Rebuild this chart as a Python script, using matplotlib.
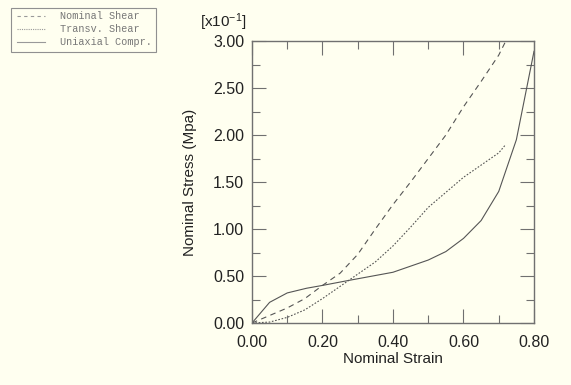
import matplotlib
matplotlib.use("Agg")
import matplotlib.pyplot as plt
from matplotlib.ticker import MultipleLocator, FormatStrFormatter

# strain values and stresses (in units of 1e-1 MPa)
strain_shear = [0.0, 0.05, 0.10, 0.15, 0.20, 0.25, 0.30, 0.35, 0.40, 0.45, 0.50, 0.55, 0.60, 0.65, 0.70, 0.72]
nominal_shear = [0.0, 0.08, 0.16, 0.26, 0.40, 0.53, 0.73, 1.00, 1.26, 1.50, 1.75, 2.00, 2.30, 2.57, 2.85, 3.00]
transv_shear = [0.0, 0.01, 0.06, 0.14, 0.26, 0.39, 0.52, 0.65, 0.82, 1.02, 1.23, 1.39, 1.55, 1.68, 1.81, 1.90]

strain_compr = [0.0, 0.05, 0.10, 0.155, 0.20, 0.27, 0.40, 0.50, 0.55, 0.60, 0.65, 0.70, 0.75, 0.80]
uniaxial_compr = [0.0, 0.22, 0.32, 0.37, 0.40, 0.45, 0.54, 0.67, 0.76, 0.90, 1.09, 1.40, 1.95, 2.89]

bg = "#fffff0"
axc = "#707070"
txt = "#222222"
plt.rcParams["font.family"] = ["Liberation Sans", "DejaVu Sans"]
plt.rcParams["mathtext.fontset"] = "custom"
plt.rcParams["mathtext.rm"] = "Liberation Sans"
plt.rcParams["mathtext.default"] = "regular"

fig = plt.figure(figsize=(5.71, 3.85), dpi=100, facecolor=bg)
ax = fig.add_axes([0.4413, 0.161, 0.4939, 0.7325], facecolor=bg)

ax.plot(strain_shear, nominal_shear, color="#555555", lw=0.8, ls=(0, (5, 4)))
ax.plot(strain_shear, transv_shear, color="#555555", lw=0.8, ls=(0, (1.5, 1.5)))
ax.plot(strain_compr, uniaxial_compr, color="#555555", lw=0.8)

ax.set_xlim(0, 0.8)
ax.set_ylim(0, 3.0)
ax.xaxis.set_major_locator(MultipleLocator(0.2))
ax.xaxis.set_minor_locator(MultipleLocator(0.1))
ax.yaxis.set_major_locator(MultipleLocator(0.5))
ax.yaxis.set_minor_locator(MultipleLocator(0.25))
ax.xaxis.set_major_formatter(FormatStrFormatter("%.2f"))
ax.yaxis.set_major_formatter(FormatStrFormatter("%.2f"))
ax.tick_params(which="both", direction="in", top=True, right=True, color=axc,
               labelsize=11.5, labelcolor=txt)
ax.tick_params(axis="x", pad=8.5)
ax.tick_params(axis="y", pad=5.5)
ax.tick_params(which="major", length=10, width=0.8)
ax.tick_params(which="minor", length=6, width=0.8)
for s in ax.spines.values():
    s.set_color(axc)
    s.set_linewidth(1.0)

ax.set_xlabel("Nominal Strain", fontsize=11, color=txt, labelpad=1.5)
ax.set_ylabel("Nominal Stress (Mpa)", fontsize=11, color=txt, labelpad=12)
fig.text(0.351, 0.914, r"[x10$^{-1}$]", fontsize=11, color=txt,
         ha="left", va="bottom")

# legend box, drawn by hand in the upper left corner
lg_x = [0.030, 0.079]
names = ["Nominal Shear", "Transv. Shear", "Uniaxial Compr."]
styles = [(0, (3, 3)), (0, (1, 1)), "-"]
fig.patches.append(plt.Rectangle((0.020, 0.865), 0.254, 0.114, transform=fig.transFigure,
                                 facecolor=bg, edgecolor="#909090", lw=0.8))
for i, (n, st) in enumerate(zip(names, styles)):
    y = 0.958 - i * 0.034
    fig.add_artist(plt.Line2D(lg_x, [y, y], transform=fig.transFigure,
                              color="#999999", lw=0.8, ls=st))
    fig.text(0.105, y, n, fontsize=7.3, family="Liberation Mono", color="#777777",
             va="center", ha="left")

fig.savefig("out.png", dpi=100, facecolor=bg)
